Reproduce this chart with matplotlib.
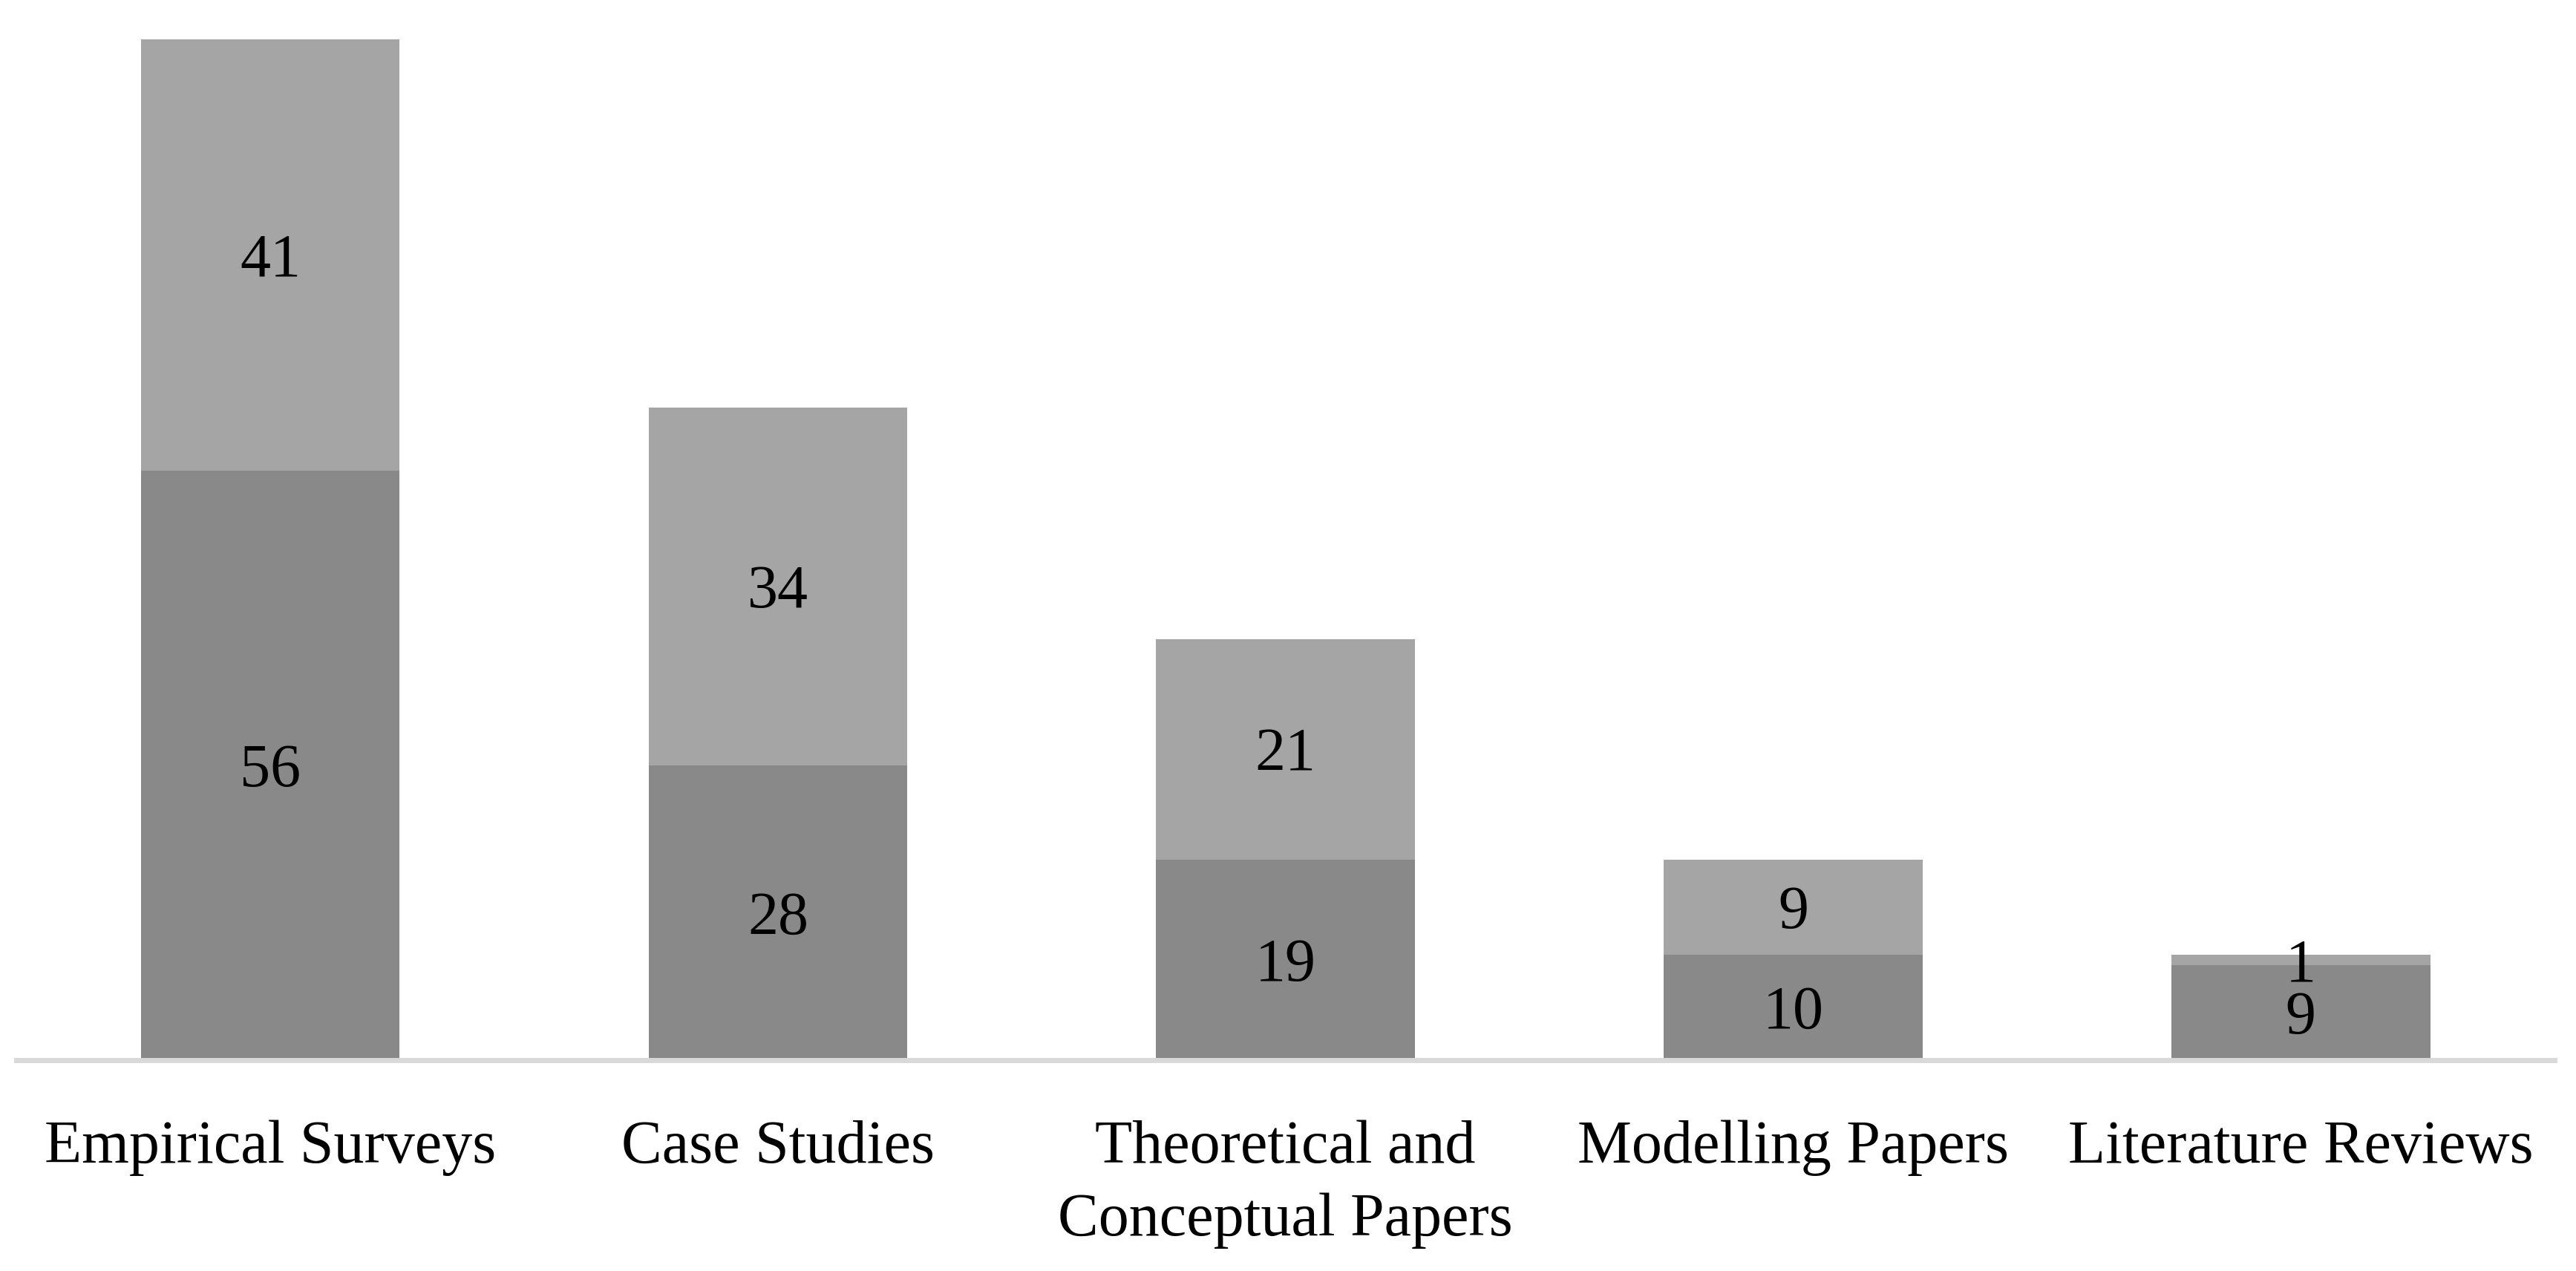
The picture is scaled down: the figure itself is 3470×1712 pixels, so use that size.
import numpy as np
import matplotlib.pyplot as plt

plt.rcParams['font.family'] = ['Liberation Serif', 'DejaVu Serif']

categories = ['Empirical Surveys', 'Case Studies', 'Theoretical and\nConceptual Papers',
              'Modelling Papers', 'Literature Reviews']
lower = [56, 28, 19, 10, 9]
upper = [41, 34, 21, 9, 1]

fig = plt.figure(figsize=(17.35, 8.56), dpi=200)
ax = fig.add_axes([0.0064, 0.166, 0.9853, 0.828])

x = np.arange(len(categories))
ax.bar(x, lower, width=0.51, color='#898989')
ax.bar(x, upper, width=0.51, bottom=lower, color='#A5A5A5')

# value labels in the middle of each segment
for i in range(len(categories)):
    ax.annotate(str(lower[i]), (x[i], lower[i] / 2), xytext=(0, -3),
                textcoords='offset points', ha='center', va='center', fontsize=29.5)
    ax.annotate(str(upper[i]), (x[i], lower[i] + upper[i] / 2), xytext=(0, -3),
                textcoords='offset points', ha='center', va='center', fontsize=29.5)

ax.set_xlim(-0.5, 4.5)
ax.set_ylim(0, 100)
ax.set_xticks(x)
ax.set_xticklabels(categories, fontsize=29.5, va='top', linespacing=1.4)
ax.tick_params(axis='x', length=0, pad=29)
ax.set_yticks([])
for s in ['top', 'right', 'left']:
    ax.spines[s].set_visible(False)
ax.spines['bottom'].set_color('#D9D9D9')
ax.spines['bottom'].set_linewidth(2.5)

fig.savefig('out.png', dpi=200)
